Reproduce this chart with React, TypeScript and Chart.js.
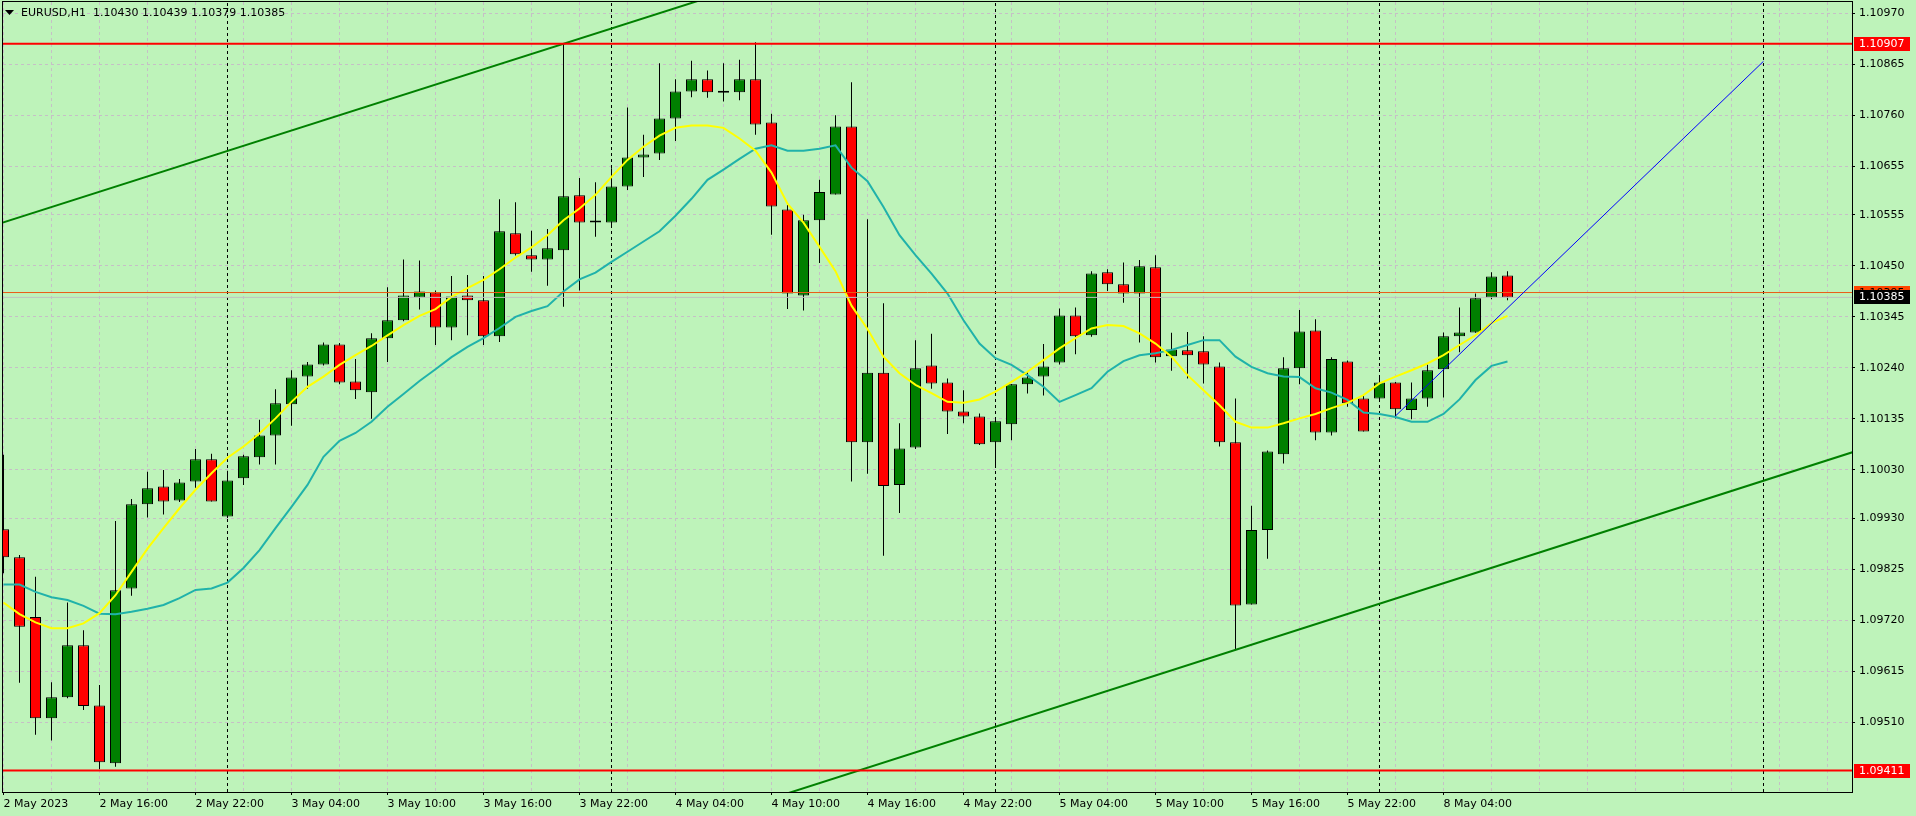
import React, { useEffect, useRef } from "react";
import { Chart, registerables } from "chart.js";

Chart.register(...registerables);

// ---------------- data ----------------
const titleText = "EURUSD,H1  1.10430 1.10439 1.10379 1.10385";

const opens = [
  1.09908, 1.09850, 1.09727, 1.09519, 1.09562, 1.09669, 1.09545, 1.09426, 1.09786, 1.09959,
  1.09996, 1.09967, 1.10006, 1.10052, 1.09934, 1.10013, 1.10056, 1.10101, 1.10165, 1.10222,
  1.10247, 1.10288, 1.10212, 1.10190, 1.10301, 1.10338, 1.10385, 1.10395, 1.10323, 1.10389,
  1.10379, 1.10305, 1.10517, 1.10472, 1.10463, 1.10482, 1.10595, 1.10539, 1.10539, 1.10613,
  1.10673, 1.10681, 1.10753, 1.10809, 1.10834, 1.10806, 1.10807, 1.10834, 1.10745, 1.10566,
  1.10389, 1.10544, 1.10597, 1.10737, 1.10087, 1.10230, 1.09999, 1.10076, 1.10245, 1.10210,
  1.10150, 1.10140, 1.10087, 1.10124, 1.10206, 1.10222, 1.10251, 1.10348, 1.10307, 1.10437,
  1.10412, 1.10393, 1.10447, 1.10264, 1.10276, 1.10274, 1.10243, 1.10087, 1.09753, 1.09906,
  1.10062, 1.10239, 1.10317, 1.10107, 1.10253, 1.10177, 1.10177, 1.10210, 1.10153, 1.10177,
  1.10237, 1.10305, 1.10313, 1.10385, 1.10430,
];
const highs = [
  1.10061, 1.09855, 1.09810, 1.09593, 1.09757, 1.09700, 1.09587, 1.09925, 1.09970, 1.10026,
  1.10030, 1.10011, 1.10073, 1.10063, 1.10028, 1.10061, 1.10133, 1.10196, 1.10235, 1.10252,
  1.10292, 1.10291, 1.10258, 1.10311, 1.10406, 1.10463, 1.10461, 1.10399, 1.10429, 1.10431,
  1.10429, 1.10587, 1.10581, 1.10522, 1.10526, 1.10907, 1.10631, 1.10622, 1.10651, 1.10776,
  1.10720, 1.10867, 1.10834, 1.10872, 1.10852, 1.10867, 1.10874, 1.10910, 1.10763, 1.10575,
  1.10555, 1.10627, 1.10760, 1.10828, 1.10546, 1.10373, 1.10126, 1.10297, 1.10310, 1.10218,
  1.10194, 1.10146, 1.10139, 1.10207, 1.10232, 1.10289, 1.10362, 1.10364, 1.10439, 1.10443,
  1.10457, 1.10462, 1.10472, 1.10312, 1.10314, 1.10305, 1.10251, 1.10177, 1.09956, 1.10070,
  1.10262, 1.10359, 1.10340, 1.10262, 1.10255, 1.10185, 1.10219, 1.10211, 1.10210, 1.10247,
  1.10313, 1.10364, 1.10393, 1.10437, 1.10439,
];
const lows = [
  1.09817, 1.09592, 1.09485, 1.09473, 1.09560, 1.09536, 1.09414, 1.09419, 1.09771, 1.09932,
  1.09938, 1.09964, 1.09993, 1.09965, 1.09931, 1.09999, 1.10041, 1.10041, 1.10121, 1.10197,
  1.10245, 1.10206, 1.10176, 1.10135, 1.10252, 1.10336, 1.10360, 1.10287, 1.10297, 1.10307,
  1.10287, 1.10293, 1.10471, 1.10438, 1.10409, 1.10366, 1.10399, 1.10510, 1.10530, 1.10606,
  1.10633, 1.10668, 1.10707, 1.10797, 1.10796, 1.10788, 1.10791, 1.10720, 1.10514, 1.10361,
  1.10358, 1.10456, 1.10597, 1.10006, 1.10022, 1.09853, 1.09941, 1.10073, 1.10197, 1.10104,
  1.10126, 1.10081, 1.10036, 1.10091, 1.10187, 1.10183, 1.10247, 1.10268, 1.10304, 1.10398,
  1.10374, 1.10292, 1.10251, 1.10234, 1.10218, 1.10208, 1.10078, 1.09659, 1.09753, 1.09847,
  1.10043, 1.10206, 1.10091, 1.10101, 1.10160, 1.10109, 1.10170, 1.10136, 1.10134, 1.10160,
  1.10179, 1.10272, 1.10312, 1.10381, 1.10379,
];
const closes = [
  1.09850, 1.09707, 1.09519, 1.09562, 1.09669, 1.09544, 1.09428, 1.09782, 1.09959, 1.09992,
  1.09965, 1.10004, 1.10052, 1.09965, 1.10008, 1.10058, 1.10101, 1.10167, 1.10220, 1.10247,
  1.10288, 1.10210, 1.10194, 1.10301, 1.10338, 1.10389, 1.10397, 1.10323, 1.10387, 1.10379,
  1.10305, 1.10521, 1.10474, 1.10463, 1.10486, 1.10593, 1.10539, 1.10539, 1.10613, 1.10673,
  1.10679, 1.10753, 1.10809, 1.10834, 1.10807, 1.10806, 1.10834, 1.10741, 1.10572, 1.10393,
  1.10544, 1.10602, 1.10737, 1.10087, 1.10230, 1.09997, 1.10074, 1.10239, 1.10208, 1.10150,
  1.10140, 1.10083, 1.10130, 1.10206, 1.10220, 1.10243, 1.10348, 1.10305, 1.10434, 1.10412,
  1.10393, 1.10449, 1.10262, 1.10278, 1.10266, 1.10247, 1.10087, 1.09751, 1.09906, 1.10068,
  1.10239, 1.10315, 1.10107, 1.10258, 1.10167, 1.10109, 1.10210, 1.10155, 1.10177, 1.10235,
  1.10305, 1.10313, 1.10383, 1.10428, 1.10385,
];

const maFast = [
  1.09757, 1.09733, 1.09716, 1.09704, 1.09704, 1.09714, 1.09735, 1.09772, 1.09820, 1.09868,
  1.09910, 1.09951, 1.09989, 1.10023, 1.10055, 1.10078, 1.10105, 1.10136, 1.10170, 1.10201,
  1.10222, 1.10246, 1.10266, 1.10285, 1.10307, 1.10328, 1.10347, 1.10361, 1.10386, 1.10404,
  1.10421, 1.10443, 1.10467, 1.10488, 1.10513, 1.10544, 1.10568, 1.10596, 1.10633, 1.10668,
  1.10695, 1.10718, 1.10734, 1.10739, 1.10739, 1.10734, 1.10712, 1.10687, 1.10642, 1.10578,
  1.10539, 1.10489, 1.10439, 1.10368, 1.10320, 1.10263, 1.10229, 1.10205, 1.10188, 1.10170,
  1.10168, 1.10175, 1.10191, 1.10211, 1.10232, 1.10256, 1.10280, 1.10301, 1.10321, 1.10328,
  1.10326, 1.10311, 1.10290, 1.10263, 1.10225, 1.10194, 1.10163, 1.10129, 1.10117, 1.10117,
  1.10126, 1.10136, 1.10145, 1.10157, 1.10168, 1.10184, 1.10208, 1.10222, 1.10235, 1.10249,
  1.10266, 1.10287, 1.10307, 1.10332, 1.10347,
];
const maSlow = [
  1.09794, 1.09794, 1.09779, 1.09768, 1.09762, 1.09750, 1.09734, 1.09733, 1.09738, 1.09744,
  1.09752, 1.09766, 1.09783, 1.09786, 1.09798, 1.09828, 1.09865, 1.09910, 1.09954, 1.09999,
  1.10057, 1.10090, 1.10106, 1.10129, 1.10160, 1.10186, 1.10213, 1.10237, 1.10262, 1.10283,
  1.10301, 1.10322, 1.10345, 1.10357, 1.10367, 1.10397, 1.10422, 1.10436, 1.10458, 1.10479,
  1.10500, 1.10521, 1.10553, 1.10588, 1.10627, 1.10648, 1.10670, 1.10691, 1.10698, 1.10687,
  1.10687, 1.10691, 1.10698, 1.10652, 1.10624, 1.10571, 1.10513, 1.10472, 1.10434, 1.10393,
  1.10338, 1.10290, 1.10260, 1.10246, 1.10225, 1.10201, 1.10170, 1.10184, 1.10198, 1.10232,
  1.10254, 1.10266, 1.10270, 1.10277, 1.10287, 1.10297, 1.10297, 1.10263, 1.10242, 1.10229,
  1.10222, 1.10221, 1.10198, 1.10189, 1.10174, 1.10148, 1.10145, 1.10139, 1.10129, 1.10129,
  1.10145, 1.10175, 1.10215, 1.10244, 1.10253,
];

const xLabelBars = [0, 6, 12, 18, 24, 30, 36, 42, 48, 54, 60, 66, 72, 78, 84, 90];
const xLabelTexts = [
  "2 May 2023", "2 May 16:00", "2 May 22:00", "3 May 04:00", "3 May 10:00", "3 May 16:00",
  "3 May 22:00", "4 May 04:00", "4 May 10:00", "4 May 16:00", "4 May 22:00", "5 May 04:00",
  "5 May 10:00", "5 May 16:00", "5 May 22:00", "8 May 04:00",
];
const yTickValues = [
  1.10970, 1.10865, 1.10760, 1.10655, 1.10555, 1.10450, 1.10345, 1.10240,
  1.10135, 1.10030, 1.09930, 1.09825, 1.09720, 1.09615, 1.09510,
];
const daySeparatorBars = [14, 38, 62, 86, 110];

const resistanceLevel = 1.10907;
const supportLevel = 1.09411;
const orangeLevel = 1.10395;
const bidLevel = 1.10385;

const upperChannel = [{ x: -1, y: 1.10529 }, { x: 45, y: 1.11012 }];
const lowerChannel = [{ x: 45, y: 1.09322 }, { x: 116, y: 1.10071 }];
const blueTrend = [{ x: 87, y: 1.10141 }, { x: 110, y: 1.10871 }];

// visible range (bars / price)
const X_MIN = -0.03125;
const X_MAX = 115.53125;
const Y_MIN = 1.09367;
const Y_MAX = 1.10993;

// ---------------- styles ----------------
const BG = "rgb(190,243,186)";
const GRID = "#c6bfc6";
const BULL = "#008000";
const BEAR = "#ff0000";
const FONT = "DejaVu Sans";

const mtPlugin = {
  id: "mtDecor",
  beforeDraw(chart: any) {
    const { ctx, width, height } = chart;
    ctx.save();
    ctx.fillStyle = BG;
    ctx.fillRect(0, 0, width, height);
    ctx.restore();
  },
  afterDraw(chart: any) {
    const { ctx, chartArea: a, scales } = chart;
    const ys = scales.y;
    ctx.save();
    ctx.strokeStyle = "#000";
    ctx.lineWidth = 1;
    ctx.setLineDash([]);
    ctx.strokeRect(a.left - 0.5, a.top - 0.5, a.right - a.left + 1, a.bottom - a.top + 1);

    // title
    ctx.fillStyle = "#000";
    ctx.beginPath();
    ctx.moveTo(5, 10);
    ctx.lineTo(14, 10);
    ctx.lineTo(9.5, 15);
    ctx.closePath();
    ctx.fill();
    ctx.font = `11px "${FONT}"`;
    ctx.textBaseline = "middle";
    ctx.textAlign = "left";
    ctx.fillText(titleText, 21, 13);

    const box = (v: number, bg: string, fg: string) => {
      const py = Math.round(ys.getPixelForValue(v));
      ctx.fillStyle = bg;
      ctx.fillRect(a.right + 2, py - 7, 56, 14);
      ctx.fillStyle = fg;
      ctx.fillText(v.toFixed(5), a.right + 7, py + 0.5);
    };
    box(resistanceLevel, "#ff0000", "#ffffff");
    box(orangeLevel, "#ff4500", "#000000");
    box(bidLevel, "#000000", "#ffffff");
    box(supportLevel, "#ff0000", "#ffffff");
    ctx.restore();
  },
};

function hLine(v: number) {
  return [{ x: X_MIN - 2, y: v }, { x: X_MAX + 2, y: v }];
}

function zeroPadding(s: any) {
  s.paddingTop = 0;
  s.paddingBottom = 0;
  s.paddingLeft = 0;
  s.paddingRight = 0;
}

export default function App() {
  const ref = useRef<HTMLCanvasElement | null>(null);

  useEffect(() => {
    if (!ref.current) return;

    const bodies = opens.map((o, i) => ({ x: i, y: [o, closes[i]] }));
    const bodyColors = opens.map((o, i) => (closes[i] >= o ? BULL : BEAR));
    const wicks = lows.map((l, i) => ({ x: i, y: [l, highs[i]] }));

    const lineBase = {
      type: "line" as const,
      pointRadius: 0,
      pointHoverRadius: 0,
      tension: 0,
      fill: false,
      clip: 0,
    };

    const datasets: any[] = [
      ...daySeparatorBars.map((b) => ({
        ...lineBase,
        label: "sep" + b,
        data: [{ x: b, y: Y_MIN }, { x: b, y: Y_MAX }],
        borderColor: "#000",
        borderWidth: 1,
        borderDash: [3, 3],
        order: 20,
      })),
      {
        type: "bar",
        label: "wicks",
        data: wicks,
        backgroundColor: "#000",
        borderWidth: 0,
        barThickness: 1,
        grouped: false,
        inflateAmount: 0,
        order: 12,
      },
      {
        type: "bar",
        label: "bodies",
        data: bodies,
        backgroundColor: bodyColors,
        borderColor: "#000",
        borderWidth: 1,
        borderSkipped: false,
        barThickness: 11,
        grouped: false,
        inflateAmount: 0,
        minBarLength: 2,
        order: 11,
      },
      {
        ...lineBase,
        label: "MA slow",
        data: maSlow.map((v, i) => ({ x: i, y: v })),
        borderColor: "rgb(32,178,170)",
        borderWidth: 2,
        order: 9,
      },
      {
        ...lineBase,
        label: "MA fast",
        data: maFast.map((v, i) => ({ x: i, y: v })),
        borderColor: "#ffff00",
        borderWidth: 2,
        order: 8,
      },
      {
        ...lineBase,
        label: "bid",
        data: hLine(bidLevel),
        borderColor: "rgb(192,192,192)",
        borderWidth: 1,
        order: 7,
      },
      {
        ...lineBase,
        label: "orange",
        data: hLine(orangeLevel),
        borderColor: "rgb(235,90,20)",
        borderWidth: 1,
        order: 6,
      },
      {
        ...lineBase,
        label: "upper channel",
        data: upperChannel,
        borderColor: "#008000",
        borderWidth: 2,
        order: 5,
      },
      {
        ...lineBase,
        label: "lower channel",
        data: lowerChannel,
        borderColor: "#008000",
        borderWidth: 2,
        order: 5,
      },
      {
        ...lineBase,
        label: "resistance",
        data: hLine(resistanceLevel),
        borderColor: "#ff0000",
        borderWidth: 2,
        order: 4,
      },
      {
        ...lineBase,
        label: "support",
        data: hLine(supportLevel),
        borderColor: "#ff0000",
        borderWidth: 2,
        order: 4,
      },
      {
        ...lineBase,
        label: "blue trend",
        data: blueTrend,
        borderColor: "#0000ff",
        borderWidth: 1,
        order: 3,
      },
    ];

    const chart = new Chart(ref.current, {
      type: "line",
      data: { datasets },
      options: {
        responsive: false,
        animation: false,
        devicePixelRatio: 1,
        events: [],
        layout: { padding: { left: 3, top: 2, right: 0, bottom: 0 } },
        plugins: {
          legend: { display: false },
          tooltip: { enabled: false },
          title: { display: false },
        },
        scales: {
          x: {
            type: "linear",
            min: X_MIN,
            max: X_MAX,
            offset: false,
            afterFit: (s: any) => {
              s.height = 24;
              zeroPadding(s);
            },
            afterBuildTicks: (s: any) => {
              const t: any[] = [];
              for (let v = 0; v <= 114; v += 3) t.push({ value: v });
              s.ticks = t;
            },
            grid: {
              offset: false,
              color: GRID,
              lineWidth: 1,
              drawTicks: true,
              tickLength: 3,
              tickWidth: 1,
              tickColor: (c: any) =>
                c.tick && xLabelBars.includes(c.tick.value) ? "#000" : "rgba(0,0,0,0)",
            },
            border: { display: false, dash: [3, 3] },
            ticks: {
              autoSkip: false,
              maxRotation: 0,
              minRotation: 0,
              align: "start",
              padding: 3,
              color: "#000",
              font: { family: FONT, size: 11 },
              callback: (v: any) => {
                const i = xLabelBars.indexOf(Number(v));
                return i >= 0 ? xLabelTexts[i] : "";
              },
            },
          },
          y: {
            type: "linear",
            position: "right",
            min: Y_MIN,
            max: Y_MAX,
            beginAtZero: false,
            afterFit: (s: any) => {
              s.width = 64;
              zeroPadding(s);
            },
            afterBuildTicks: (s: any) => {
              s.ticks = yTickValues.map((v) => ({ value: v }));
            },
            grid: {
              color: GRID,
              lineWidth: 1,
              drawTicks: true,
              tickLength: 3,
              tickWidth: 1,
              tickColor: "#000",
            },
            border: { display: false, dash: [3, 3] },
            ticks: {
              padding: 4,
              color: "#000",
              font: { family: FONT, size: 11 },
              callback: (v: any) => Number(v).toFixed(5),
            },
          },
        },
      } as any,
      plugins: [mtPlugin],
    } as any);

    return () => chart.destroy();
  }, []);

  return (
    <div style={{ position: "absolute", left: 0, top: 0, width: 1916, height: 816 }}>
      <canvas ref={ref} width={1916} height={816} style={{ display: "block", width: 1916, height: 816 }} />
    </div>
  );
}
